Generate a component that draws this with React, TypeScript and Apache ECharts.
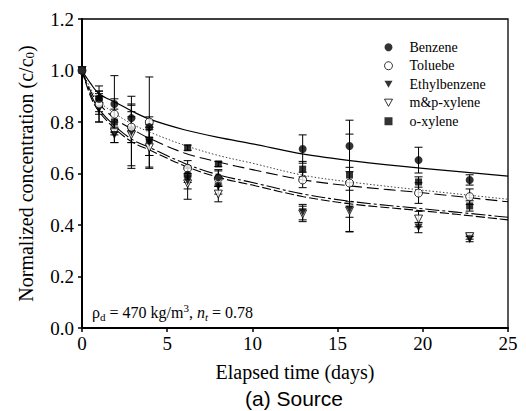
import React, { useEffect, useRef } from "react";
import * as echarts from "echarts";

// Sampling times (days)
const days = [0, 1.0, 1.9, 2.9, 3.95, 6.2, 8.0, 12.95, 15.7, 19.75, 22.75];

// Measured normalized concentrations
const benzene = [1.0, 0.89, 0.87, 0.815, 0.78, 0.595, 0.585, 0.695, 0.707, 0.652, 0.575];
const toluene = [1.0, 0.87, 0.83, 0.78, 0.8, 0.62, 0.58, 0.575, 0.563, 0.524, 0.51];
const ethylbenzene = [1.0, 0.85, 0.75, 0.76, 0.72, 0.57, 0.55, 0.45, 0.46, 0.39, 0.345];
const mpXylene = [1.0, 0.86, 0.76, 0.75, 0.7, 0.56, 0.52, 0.443, 0.455, 0.423, 0.355];
const oXylene = [1.0, 0.89, 0.8, 0.77, 0.73, 0.7, 0.637, 0.617, 0.594, 0.567, 0.474];

// Error bar half-widths
const benzeneErr = [0, 0.05, 0.11, 0.05, 0.04, 0.03, 0.03, 0.055, 0.1, 0.05, 0.02];
const tolueneErr = [0, 0.04, 0.06, 0.06, 0.175, 0.03, 0.03, 0.03, 0.19, 0.04, 0.03];
const ethylbenzeneErr = [0, 0.05, 0.03, 0.14, 0.05, 0.03, 0.03, 0.03, 0.03, 0.02, 0.01];
const mpXyleneErr = [0, 0.06, 0.04, 0.12, 0.08, 0.06, 0.03, 0.03, 0.08, 0.03, 0.01];
const oXyleneErr = [0, 0.03, 0.05, 0.05, 0.06, 0.01, 0.01, 0.03, 0.03, 0.02, 0.02];

// Model curves
const fitDays = [0, 0.5, 1, 2, 3, 4, 6, 8, 10, 13, 16, 20, 25];
const benzeneFit = [1.0, 0.95, 0.91, 0.875, 0.84, 0.81, 0.77, 0.74, 0.715, 0.675, 0.648, 0.62, 0.59];
const tolueneFit = [1.0, 0.93, 0.88, 0.83, 0.79, 0.76, 0.71, 0.67, 0.64, 0.593, 0.565, 0.535, 0.5];
const oXyleneFit = [1.0, 0.92, 0.87, 0.81, 0.77, 0.735, 0.68, 0.645, 0.615, 0.575, 0.55, 0.525, 0.49];
const ethylbenzeneFit = [1.0, 0.9, 0.84, 0.77, 0.72, 0.69, 0.63, 0.585, 0.555, 0.51, 0.48, 0.455, 0.42];
const mpXyleneFit = [1.0, 0.91, 0.85, 0.78, 0.73, 0.7, 0.64, 0.595, 0.565, 0.52, 0.49, 0.463, 0.43];

const legendNames = ["Benzene", "Toluebe", "Ethylbenzene", "m&p-xylene", "o-xylene"];

const xTicks = { min: 0, max: 25, interval: 5 };
const yTicks = { min: 0, max: 1.2, interval: 0.2 };

const SERIF = "'Liberation Serif', 'Times New Roman', serif";
const DOWN_TRI = "path://M0,0 L10,0 L5,9 Z";

const pairs = (xs: number[], ys: number[]) => xs.map((x, i) => [x, ys[i]]);
const errData = (vals: number[], errs: number[]) =>
  days
    .map((d, i) => [d, vals[i] - errs[i], vals[i] + errs[i]])
    .filter((_, i) => errs[i] > 0);

const errorSeries = (vals: number[], errs: number[]) => ({
  type: "custom",
  z: 1,
  silent: true,
  renderItem: (params: any, api: any) => {
    const x = api.value(0);
    const a = api.coord([x, api.value(1)]);
    const b = api.coord([x, api.value(2)]);
    const w = 4;
    const st = { stroke: "#000", lineWidth: 1 };
    return {
      type: "group",
      children: [
        { type: "line", shape: { x1: a[0], y1: a[1], x2: b[0], y2: b[1] }, style: st },
        { type: "line", shape: { x1: a[0] - w, y1: a[1], x2: a[0] + w, y2: a[1] }, style: st },
        { type: "line", shape: { x1: b[0] - w, y1: b[1], x2: b[0] + w, y2: b[1] }, style: st },
      ],
    };
  },
  data: errData(vals, errs),
});

const fitSeries = (name: string, ys: number[], type: any, color = "#000", width = 1.1) => ({
  type: "line",
  name,
  data: pairs(fitDays, ys),
  smooth: 0.35,
  showSymbol: false,
  symbol: "none",
  z: 2,
  silent: true,
  lineStyle: { color, width, type },
});

export default function App() {
  const ref = useRef<HTMLDivElement>(null);
  useEffect(() => {
    if (!ref.current) return;
    const chart = echarts.init(ref.current, null, { renderer: "svg" });
    const filled = { color: "#000" };
    const open = { color: "#fff", borderColor: "#000", borderWidth: 1 };
    chart.setOption({
      animation: false,
      backgroundColor: "#fff",
      grid: {
        left: 82,
        right: 18,
        top: 19,
        bottom: 83,
        show: true,
        borderColor: "#000",
        borderWidth: 1.3,
      },
      legend: {
        orient: "vertical",
        left: 379,
        top: 35,
        itemWidth: 8,
        itemHeight: 8,
        itemGap: 4,
        itemStyle: { borderWidth: 1 },
        data: legendNames.map((n) =>
          n === "Ethylbenzene" || n === "m&p-xylene" ? { name: n, icon: DOWN_TRI } : { name: n }
        ),
        textStyle: {
          fontFamily: SERIF,
          fontSize: 14,
          color: "#000",
          lineHeight: 14.5,
          padding: [0, 0, 0, 12],
        },
      },
      xAxis: {
        type: "value",
        ...xTicks,
        name: "Elapsed time (days)",
        nameLocation: "middle",
        nameGap: 34,
        nameTextStyle: { fontFamily: SERIF, fontSize: 20, color: "#000" },
        axisLine: { show: true, lineStyle: { color: "#000", width: 2 } },
        axisTick: { show: true, inside: false, length: 4, lineStyle: { color: "#000", width: 1.5 } },
        axisLabel: { fontFamily: SERIF, fontSize: 19, color: "#000", margin: 6 },
        splitLine: { show: false },
      },
      yAxis: {
        type: "value",
        ...yTicks,
        name: "Normalized concentration (c/c{sub|0})",
        nameLocation: "middle",
        nameGap: 46,
        nameTextStyle: {
          fontFamily: SERIF,
          fontSize: 20,
          color: "#000",
          rich: {
            sub: { fontFamily: SERIF, fontSize: 13, color: "#000", verticalAlign: "bottom", lineHeight: 10 },
          },
        },
        axisLine: { show: true, lineStyle: { color: "#000", width: 2 } },
        axisTick: { show: true, inside: false, length: 4, lineStyle: { color: "#000", width: 1.5 } },
        axisLabel: {
          fontFamily: SERIF,
          fontSize: 19,
          color: "#000",
          margin: 8,
          formatter: (v: number) => v.toFixed(1),
        },
        splitLine: { show: false },
      },
      graphic: [
        {
          type: "text",
          x: 92,
          y: 312,
          style: {
            text: "{n|ρ}{sub|d}{n| = 470 kg/m}{sup|3}{n|, }{it|n}{itsub|t}{n| = 0.78}",
            verticalAlign: "middle",
            rich: {
              n: { fontFamily: SERIF, fontSize: 16, fill: "#000", lineHeight: 20 },
              it: { fontFamily: SERIF, fontSize: 16, fontStyle: "italic", fill: "#000", lineHeight: 20 },
              sub: { fontFamily: SERIF, fontSize: 11, fill: "#000", lineHeight: 8, verticalAlign: "bottom" },
              itsub: { fontFamily: SERIF, fontSize: 11, fontStyle: "italic", fill: "#000", lineHeight: 8, verticalAlign: "bottom" },
              sup: { fontFamily: SERIF, fontSize: 11, fill: "#000", lineHeight: 8, verticalAlign: "top" },
            },
          },
        },
        {
          type: "text",
          x: 294,
          y: 398,
          style: {
            text: "(a) Source",
            font: "21px 'Liberation Sans', Arial, sans-serif",
            fill: "#000",
            align: "center",
            verticalAlign: "middle",
          },
        },
      ],
      series: [
        fitSeries("Benzene fit", benzeneFit, "solid", "#000", 1.2),
        fitSeries("Toluebe fit", tolueneFit, [1.5, 2], "#444", 1),
        fitSeries("o-xylene fit", oXyleneFit, [12, 5], "#000", 1.1),
        fitSeries("Ethylbenzene fit", ethylbenzeneFit, [9, 3], "#000", 1.1),
        fitSeries("m&p-xylene fit", mpXyleneFit, [14, 3, 3, 3], "#000", 1.1),
        errorSeries(benzene, benzeneErr),
        errorSeries(toluene, tolueneErr),
        errorSeries(ethylbenzene, ethylbenzeneErr),
        errorSeries(mpXylene, mpXyleneErr),
        errorSeries(oXylene, oXyleneErr),
        {
          type: "scatter",
          name: "o-xylene",
          data: pairs(days, oXylene),
          symbol: "rect",
          symbolSize: 7,
          itemStyle: filled,
          z: 3,
        },
        {
          type: "scatter",
          name: "m&p-xylene",
          data: pairs(days, mpXylene),
          symbol: "triangle",
          symbolRotate: 180,
          symbolSize: 8,
          itemStyle: open,
          z: 3,
        },
        {
          type: "scatter",
          name: "Ethylbenzene",
          data: pairs(days, ethylbenzene),
          symbol: "triangle",
          symbolRotate: 180,
          symbolSize: 8,
          itemStyle: filled,
          z: 3,
        },
        {
          type: "scatter",
          name: "Toluebe",
          data: pairs(days, toluene),
          symbol: "circle",
          symbolSize: 8,
          itemStyle: open,
          z: 3,
        },
        {
          type: "scatter",
          name: "Benzene",
          data: pairs(days, benzene),
          symbol: "circle",
          symbolSize: 8,
          itemStyle: filled,
          z: 3,
        },
      ],
    });
    return () => chart.dispose();
  }, []);
  return (
    <div
      ref={ref}
      style={{ position: "fixed", left: 0, top: 0, width: 526, height: 411, background: "#fff" }}
    />
  );
}
